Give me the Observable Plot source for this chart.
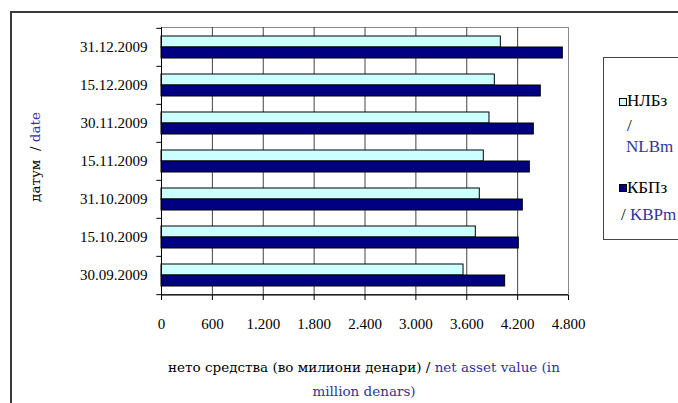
<!DOCTYPE html>
<html>
<head>
<meta charset="utf-8">
<script src="https://cdn.jsdelivr.net/npm/d3@7"></script>
<script src="https://cdn.jsdelivr.net/npm/@observablehq/plot@0.6"></script>
<style>
  html, body { margin: 0; padding: 0; background: #fff; }
  #wrap { position: relative; width: 678px; height: 403px; overflow: hidden; background: #fff; }
  #wrap svg { position: absolute; left: 0; top: 0; }
  .abs { position: absolute; white-space: pre; }
  .blue { color: #333399; }
  .ser { font-family: "DejaVu Serif", serif; font-size: 13.5px; }
  .leg { font-family: "Liberation Serif", serif; font-size: 17px; line-height: 20px; color: #000; }
</style>
</head>
<body>
<div id="wrap">
  <div class="abs" style="left:10px;top:11px;width:720px;height:430px;border-left:2px solid #3a3a3a;border-top:2px solid #3a3a3a;"></div>
</div>
<script>
// ---- data ----
const dates = ["31.12.2009", "15.12.2009", "30.11.2009", "15.11.2009", "31.10.2009", "15.10.2009", "30.09.2009"];
const nlbValues = [4002, 3931, 3868, 3801, 3754, 3707, 3562];
const kbpValues = [4733, 4473, 4391, 4344, 4261, 4214, 4053];
const xTicks = [0, 600, 1200, 1800, 2400, 3000, 3600, 4200, 4800];
const seriesNames = ["НЛБз / NLBm", "КБПз / KBPm"];

const nlb = dates.map((d, i) => ({date: d, value: nlbValues[i], series: seriesNames[0]}));
const kbp = dates.map((d, i) => ({date: d, value: kbpValues[i], series: seriesNames[1]}));

const fmt = d => d3.format(",")(d).replace(/,/g, ".");

const plot = Plot.plot({
  width: 678,
  height: 403,
  marginLeft: 161,
  marginRight: 110,
  marginTop: 27,
  marginBottom: 108,
  style: {fontFamily: "Liberation Serif, serif", fontSize: "15px", background: "transparent", color: "#000"},
  x: {domain: [0, 4800], ticks: xTicks, tickFormat: fmt},
  y: {domain: dates, paddingInner: 0.426, paddingOuter: 0.213, align: 0.5},
  marks: [
    Plot.frame({stroke: "#8a8a8a"}),
    Plot.ruleX(xTicks.slice(1, -1), {stroke: "#444", strokeWidth: 1}),
    Plot.barX(nlb, {x: "value", y: "date", fill: "#ccffff", stroke: "#000", strokeWidth: 1, insetBottom: 11}),
    Plot.barX(kbp, {x: "value", y: "date", fill: "#000080", stroke: "#000", strokeWidth: 1, insetTop: 11}),
    Plot.ruleY(dates, {y: d => d, dy: -19.15, x1: -55, x2: 0, stroke: "#000"}),
    Plot.ruleY(dates.slice(-1), {y: d => d, dy: 19.15, x1: -55, x2: 4800, stroke: "#000"}),
    Plot.ruleX([0], {stroke: "#000"}),
    Plot.axisX({ticks: xTicks, tickFormat: fmt, tickSize: 5, tickPadding: 18, stroke: "#000", label: null}),
    Plot.axisY({tickSize: 0, tickPadding: 14, label: null})
  ]
});
const wrap = document.getElementById("wrap");
wrap.appendChild(plot);

// y title (rotated)
const yt = document.createElement("div");
yt.className = "abs ser";
yt.style.cssText += "left:-65px;top:147px;width:200px;height:20px;line-height:20px;text-align:center;transform:rotate(-90deg);transform-origin:100px 10px;";
yt.innerHTML = 'датум  / <span class="blue">date</span>';
wrap.appendChild(yt);

// x title
const xt1 = document.createElement("div");
xt1.className = "abs ser";
xt1.style.cssText += "left:114px;top:357px;width:500px;height:20px;line-height:20px;text-align:center;";
xt1.innerHTML = 'нето средства (во милиони денари) / <span class="blue">net asset value (in</span>';
wrap.appendChild(xt1);
const xt2 = document.createElement("div");
xt2.className = "abs ser";
xt2.style.cssText += "left:114px;top:381px;width:500px;height:20px;line-height:20px;text-align:center;";
xt2.innerHTML = '<span class="blue">million denars)</span>';
wrap.appendChild(xt2);

// legend
const legBox = document.createElement("div");
legBox.className = "abs";
legBox.style.cssText += "left:603px;top:57px;width:120px;height:181px;border:1px solid #444;background:#fff;";
wrap.appendChild(legBox);
function sq(x, y, fill) {
  const s = document.createElement("div");
  s.className = "abs";
  s.style.cssText += `left:${x}px;top:${y}px;width:6px;height:6px;border:1px solid #000;background:${fill};`;
  wrap.appendChild(s);
}
function txt(x, cy, html) {
  const t = document.createElement("div");
  t.className = "abs leg";
  t.style.cssText += `left:${x}px;top:${cy - 10}px;`;
  t.innerHTML = html;
  wrap.appendChild(t);
}
sq(619, 98, "#ccffff");
txt(627, 101, "НЛБз");
txt(627, 126, "/");
txt(626, 147, '<span class="blue">NLBm</span>');
sq(619, 184, "#000080");
txt(627, 188, "КБПз");
txt(621, 215, '/ <span class="blue">KBPm</span>');
</script>
</body>
</html>
